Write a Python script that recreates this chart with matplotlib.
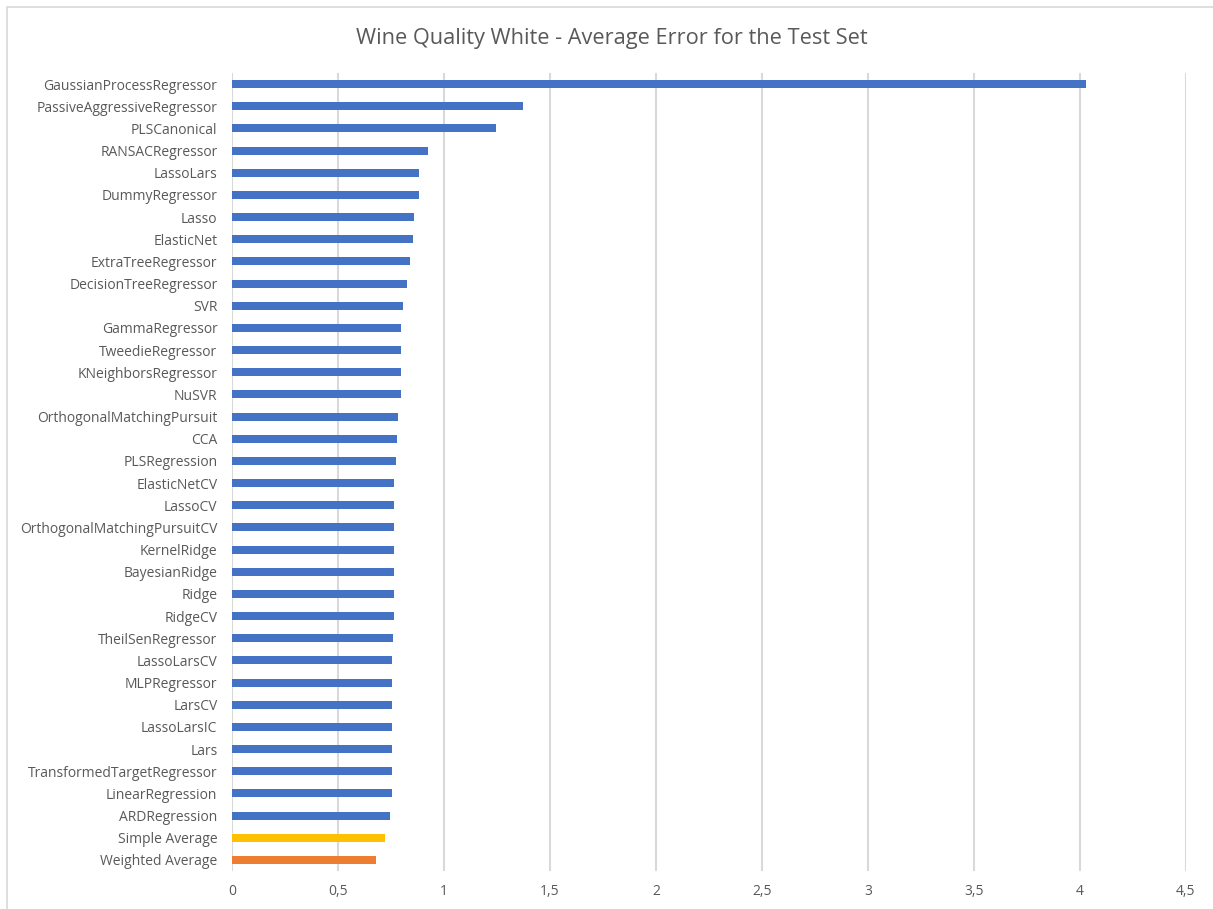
import numpy as np
import matplotlib.pyplot as plt
from matplotlib.patches import Rectangle
from matplotlib.ticker import FuncFormatter

plt.rcParams['font.family'] = ['Open Sans', 'DejaVu Sans']

# models and their average error on the test set (top to bottom)
models = [
    "GaussianProcessRegressor", "PassiveAggressiveRegressor", "PLSCanonical",
    "RANSACRegressor", "LassoLars", "DummyRegressor", "Lasso", "ElasticNet",
    "ExtraTreeRegressor", "DecisionTreeRegressor", "SVR", "GammaRegressor",
    "TweedieRegressor", "KNeighborsRegressor", "NuSVR",
    "OrthogonalMatchingPursuit", "CCA", "PLSRegression", "ElasticNetCV",
    "LassoCV", "OrthogonalMatchingPursuitCV", "KernelRidge", "BayesianRidge",
    "Ridge", "RidgeCV", "TheilSenRegressor", "LassoLarsCV", "MLPRegressor",
    "LarsCV", "LassoLarsIC", "Lars", "TransformedTargetRegressor",
    "LinearRegression", "ARDRegression", "Simple Average", "Weighted Average",
]
errors = [
    4.03, 1.371, 1.247, 0.924, 0.880, 0.880, 0.860, 0.855,
    0.839, 0.827, 0.806, 0.798, 0.798, 0.798, 0.798,
    0.783, 0.778, 0.775, 0.765, 0.762, 0.762, 0.762, 0.762,
    0.762, 0.762, 0.759, 0.754, 0.754, 0.754, 0.754, 0.754, 0.754,
    0.754, 0.746, 0.721, 0.679,
]
colors = ["#4472C4"] * 34 + ["#FFC000", "#ED7D31"]

fig = plt.figure(figsize=(12.13, 9.09), dpi=100)
ax = fig.add_axes([0.1913, 0.0418, 0.7864, 0.8779])

y = np.arange(len(models))
ax.barh(y, errors, height=0.36, color=colors, zorder=3)

ax.set_ylim(len(models) - 0.5, -0.5)
ax.set_xlim(0, 4.5)
ax.set_xticks(np.arange(0, 4.51, 0.5))
ax.xaxis.set_major_formatter(FuncFormatter(lambda v, p: f"{v:g}".replace(".", ",")))
ax.set_yticks(y)
ax.set_yticklabels(models)

ax.grid(axis="x", color="#d9d9d9", linewidth=1.5, zorder=0)
for s in ax.spines.values():
    s.set_visible(False)
ax.tick_params(length=0, colors="#595959", labelsize=10)
ax.tick_params(axis="y", pad=10.5)
ax.tick_params(axis="x", pad=9.5)

fig.text(0.504, 0.958, "Wine Quality White - Average Error for the Test Set",
         ha="center", va="center", fontsize=15.7, color="#595959")

# light frame around the chart area
fig.patches.append(Rectangle((7 / 1213, -0.01), 1.02, 1 - 7 / 909 + 0.01,
                             transform=fig.transFigure, fill=False,
                             edgecolor="#d9d9d9", linewidth=1.2))

fig.savefig("out.png", dpi=100)
